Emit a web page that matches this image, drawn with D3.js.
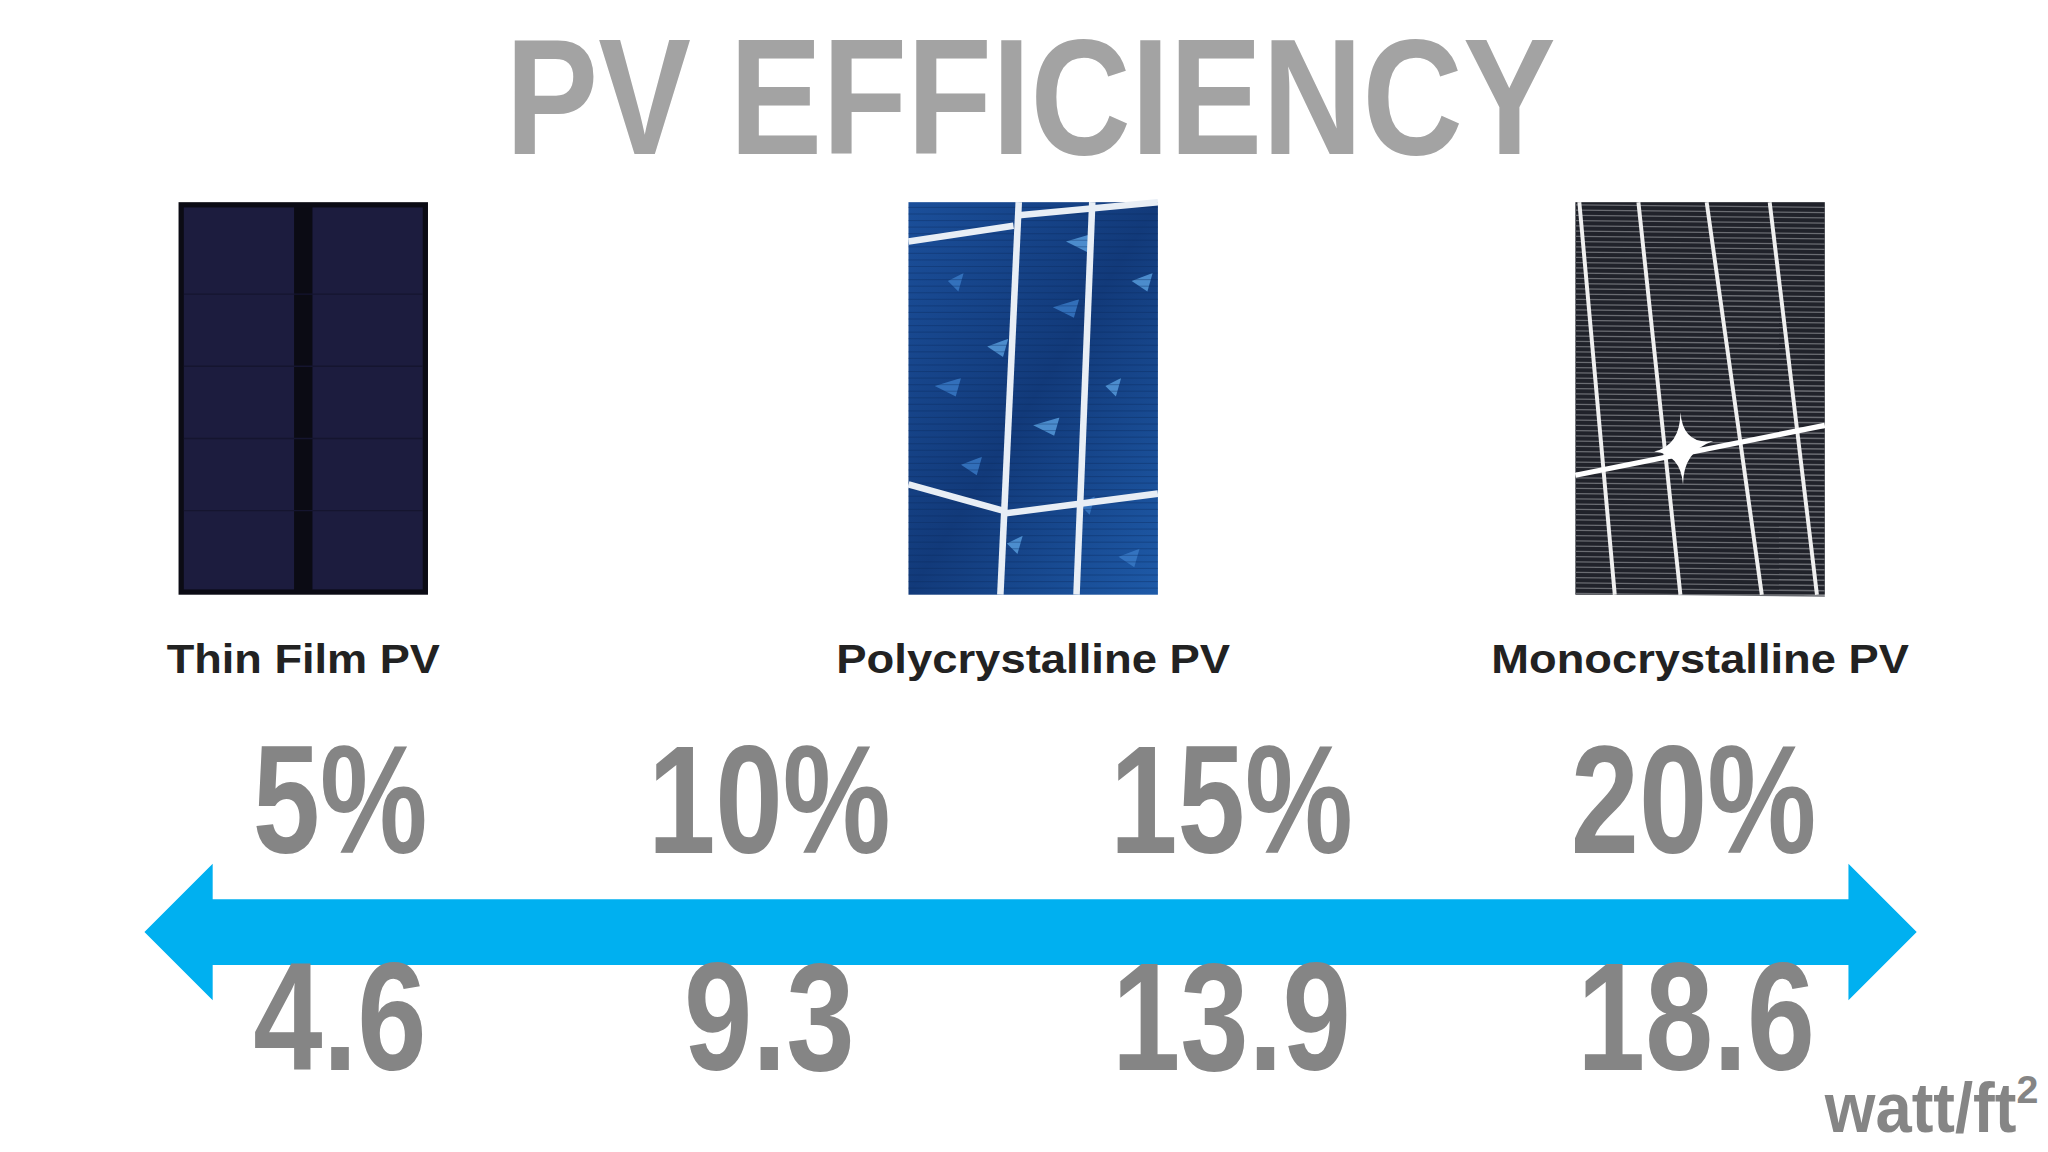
<!DOCTYPE html>
<html><head><meta charset="utf-8">
<script src="https://cdn.jsdelivr.net/npm/d3@7/dist/d3.min.js"></script>
<style>html,body{margin:0;padding:0;background:#fff;overflow:hidden}</style>
</head><body>
<svg id="c" width="2048" height="1152" viewBox="0 0 1560 877.5"></svg>
<script>
const title = "PV EFFICIENCY";
const panelTypes = ["Thin Film PV", "Polycrystalline PV", "Monocrystalline PV"];
const efficiency = [5, 10, 15, 20];
const wattPerFt2 = [4.6, 9.3, 13.9, 18.6];
const unitLabel = "watt/ft";

const svg = d3.select("#c");
const font = "'Liberation Sans Narrow','Liberation Sans',Arial,sans-serif";
const defs = svg.append("defs");

svg.append("text").attr("x", 785).attr("y", 117).attr("text-anchor", "middle")
  .attr("font-family", font).attr("font-weight", 700).attr("font-size", 126)
  .attr("fill", "#a3a3a3").attr("textLength", 800).attr("lengthAdjust", "spacingAndGlyphs").text(title);

const centers = [231, 787, 1295];
const labelW = [208, 300, 318];
panelTypes.forEach((d, i) => {
  const cx = centers[i];
  const g = svg.append("g").attr("transform", `translate(${cx - 95},154)`);
  const w = 190, h = 299;
  if (i === 0) {
    g.append("rect").attr("width", w).attr("height", h).attr("fill", "#0b0b14");
    g.append("rect").attr("x", 4).attr("y", 4).attr("width", 84).attr("height", h - 8).attr("fill", "#1c1c3e");
    g.append("rect").attr("x", 102).attr("y", 4).attr("width", 84).attr("height", h - 8).attr("fill", "#1c1c3e");
    [70, 125, 180, 235].forEach(y => g.append("line").attr("x1", 4).attr("x2", 186).attr("y1", y).attr("y2", y).attr("stroke", "#15152f").attr("stroke-width", 1));
  } else if (i === 1) {
    const gr = defs.append("linearGradient").attr("id", "pg").attr("x1", 0).attr("y1", 0).attr("x2", 1).attr("y2", 1);
    gr.append("stop").attr("offset", 0).attr("stop-color", "#1b4f9a");
    gr.append("stop").attr("offset", 0.5).attr("stop-color", "#123a7a");
    gr.append("stop").attr("offset", 1).attr("stop-color", "#1e5aa8");
    g.append("rect").attr("width", w).attr("height", h).attr("fill", "url(#pg)");
    const flakes = [[30,60],[60,110],[110,80],[150,140],[40,200],[95,170],[130,230],[170,60],[20,140],[75,260],[160,270],[120,30]];
    flakes.forEach(([x, y], k) => g.append("path")
      .attr("d", `M${x},${y} l${12 + k % 3 * 4},${-6} l${-4},${14} z`).attr("fill", k % 2 ? "#5aa0e0" : "#3b7cc8").attr("opacity", 0.8));
    for (let y = 4; y < h; y += 5) g.append("line").attr("x1", 0).attr("x2", w).attr("y1", y).attr("y2", y).attr("stroke", "#0d2c60").attr("stroke-width", 0.6).attr("opacity", 0.5);
    const L = [[84, 0, 70, h], [140, 0, 128, h], [0, 30, 80, 18], [84, 10, 190, 0], [0, 215, 72, 235], [74, 237, 190, 222]];
    L.forEach(([a, b, c, e]) => g.append("line").attr("x1", a).attr("y1", b).attr("x2", c).attr("y2", e).attr("stroke", "#e8eef5").attr("stroke-width", 5));
  } else {
    g.append("rect").attr("width", w).attr("height", h).attr("fill", "#20222a");
    for (let y = 2; y < h; y += 4) g.append("line").attr("x1", 0).attr("x2", w).attr("y1", y).attr("y2", y + 2).attr("stroke", "#6a6c72").attr("stroke-width", 1);
    [[3, 0, 30, h], [48, 0, 80, h], [100, 0, 142, h], [148, 0, 184, h]].forEach(([a, b, c, e]) => g.append("line").attr("x1", a).attr("y1", b).attr("x2", c).attr("y2", e).attr("stroke", "#f0f0f0").attr("stroke-width", 3));
    g.append("line").attr("x1", 0).attr("y1", 208).attr("x2", w).attr("y2", 170).attr("stroke", "#fff").attr("stroke-width", 4);
    g.append("path").attr("d", "M60,190 Q80,185 80,160 Q82,185 105,182 Q82,190 82,215 Q80,192 60,190Z").attr("fill", "#fff");
  }
  svg.append("text").attr("x", cx).attr("y", 513).attr("text-anchor", "middle")
    .attr("font-family", "'Liberation Sans',Arial,sans-serif").attr("font-weight", 700).attr("font-size", 31)
    .attr("fill", "#222").attr("textLength", labelW[i]).attr("lengthAdjust", "spacingAndGlyphs").text(d);
});

// arrow
const ax = d3.scaleLinear().domain([0, 1]).range([110, 1460]);
svg.append("path").attr("fill", "#00b0f0").attr("d",
  `M${ax(0)},710 L162,658 L162,685 L1408,685 L1408,658 L${ax(1)},710 L1408,762 L1408,735 L162,735 L162,762 Z`);

const xs = d3.scaleOrdinal().domain(efficiency).range([259, 586, 938, 1290]);
const pctW = [133, 185, 185, 187];
const wW = [132, 130, 182, 181];
svg.selectAll("text.pct").data(efficiency).join("text").attr("class", "pct")
  .attr("x", d => xs(d)).attr("y", 650).attr("text-anchor", "middle")
  .attr("font-family", font).attr("font-weight", 700).attr("font-size", 118).attr("fill", "#858585")
  .attr("textLength", (d, i) => pctW[i]).attr("lengthAdjust", "spacingAndGlyphs")
  .text(d => d + "%");
svg.selectAll("text.w").data(wattPerFt2).join("text").attr("class", "w")
  .attr("x", (d, i) => xs(efficiency[i]) + (i == 3 ? 2 : 0)).attr("y", 815).attr("text-anchor", "middle")
  .attr("font-family", font).attr("font-weight", 700).attr("font-size", 118).attr("fill", "#858585")
  .attr("textLength", (d, i) => wW[i]).attr("lengthAdjust", "spacingAndGlyphs")
  .text(d => d.toFixed(1));
const u = svg.append("text").attr("x", 1390).attr("y", 862)
  .attr("font-family", font).attr("font-weight", 700).attr("font-size", 54).attr("fill", "#858585");
u.append("tspan").attr("textLength", 146).attr("lengthAdjust", "spacingAndGlyphs").text(unitLabel);
u.append("tspan").attr("dy", -22).attr("font-size", 30).text("2");
</script>
</body></html>
